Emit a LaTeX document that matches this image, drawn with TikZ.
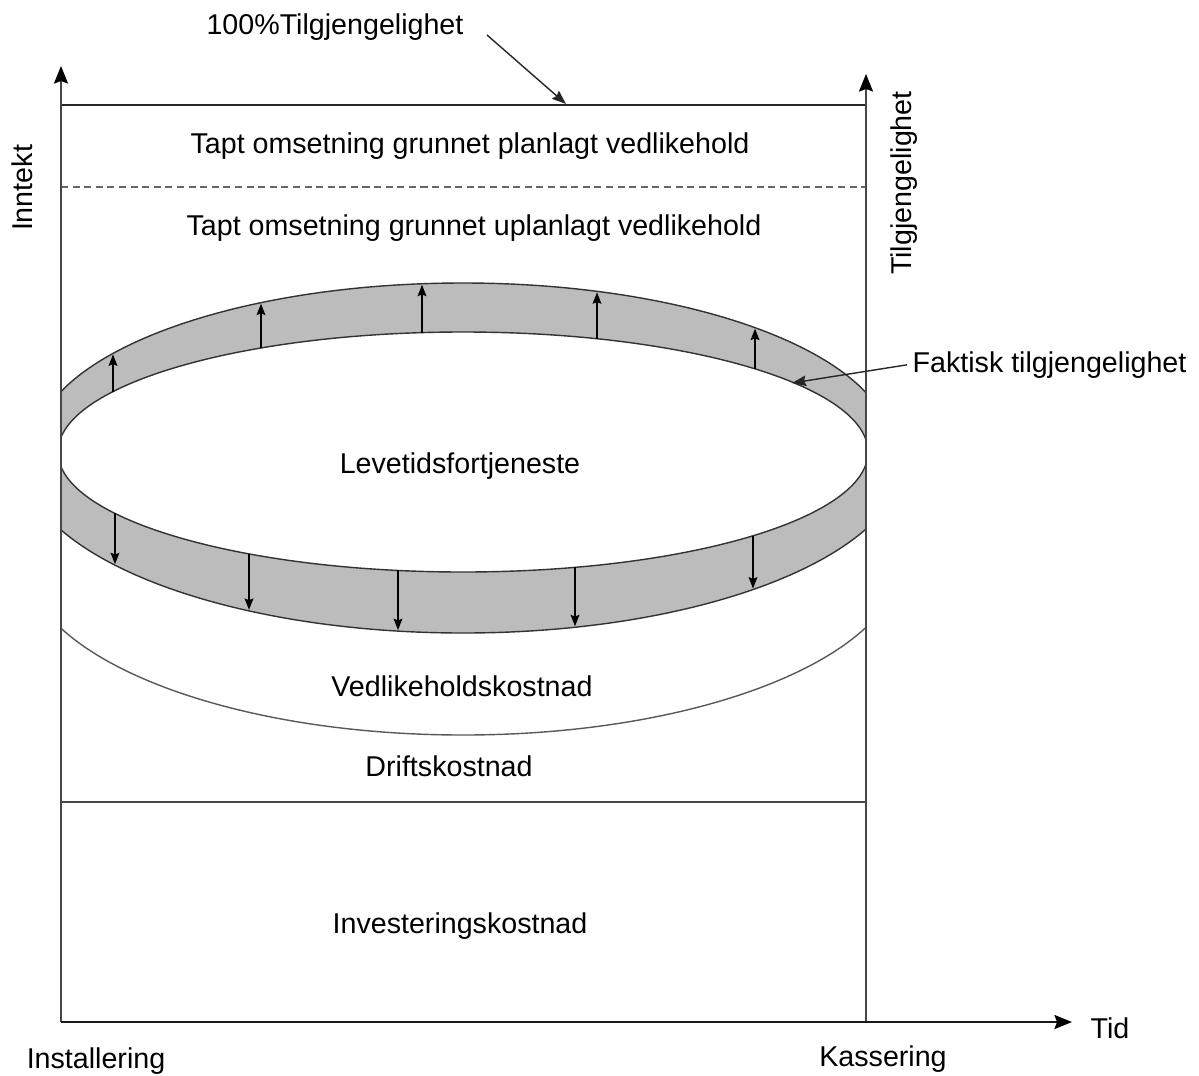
\documentclass[tikz,border=0pt]{standalone}
\usepackage{fontspec}
\setmainfont{Liberation Sans}
\usetikzlibrary{arrows.meta}
\begin{document}
\begin{tikzpicture}[x=0.02cm,y=-0.02cm,
  lbl/.style={font=\fontsize{16.3}{19}\selectfont, inner sep=3pt},
  hlbl/.style={lbl, yshift=-1.6pt},
  axis/.style={line width=1.1pt, draw=black!72},
  axisarrow/.style={axis, -{Stealth[length=10pt,width=8pt,inset=1.5pt,color=black]}},
  bandedge/.style={line width=0.8pt, draw=black!80},
  ringarrow/.style={line width=0.8pt, draw=black, -{Stealth[length=6.5pt,width=5pt,inset=1pt]}},
  pointer/.style={line width=0.8pt, draw=black!85, -{Stealth[length=8pt,width=6pt,inset=1pt]}},
]
\definecolor{bandgray}{RGB}{188,188,188}
\useasboundingbox (0,0) rectangle (1199,1075);

% axis and frame points
\coordinate (origin) at (61,1022);
\coordinate (ltop)   at (61,66);
\coordinate (rbase)  at (866,1022);
\coordinate (rtop)   at (866,74);
\coordinate (xend)   at (1072,1022);

% the availability ring, cut by the two vertical axes
\begin{scope}
  \clip (61,0) rectangle (866,1075);
  \fill[bandgray]
    (34,450) arc[start angle=180, end angle=360, x radius=429, y radius=167]
    -- (906,455) arc[start angle=0, end angle=180, x radius=443, y radius=178]
    -- cycle;
  \fill[white] (463,452) ellipse[x radius=405, y radius=120];
  \draw[bandedge] (34,450) arc[start angle=180, end angle=360, x radius=429, y radius=167];
  \draw[bandedge] (463,452) ellipse[x radius=405, y radius=120];
  \draw[bandedge] (906,455) arc[start angle=0, end angle=180, x radius=443, y radius=178];
  % maintenance cost curve
  \draw[line width=0.8pt, draw=black!65] (903,555) arc[start angle=0, end angle=180, x radius=440, y radius=180];
\end{scope}

% arrows across the upper half of the ring
\foreach \x in {113,261,422,597,755} {
  \pgfmathsetmacro\ya{452-120*sqrt(1-((\x-463)/405)^2)}
  \pgfmathsetmacro\yb{450-167*sqrt(1-((\x-463)/429)^2)+1}
  \draw[ringarrow] (\x,\ya) -- (\x,\yb);
}
% arrows across the lower half of the ring
\foreach \x in {115,249,398,575,753} {
  \pgfmathsetmacro\ya{452+120*sqrt(1-((\x-463)/405)^2)}
  \pgfmathsetmacro\yb{455+178*sqrt(1-((\x-463)/443)^2)-1}
  \draw[ringarrow] (\x,\ya) -- (\x,\yb);
}

% horizontal levels
\draw[line width=1pt, draw=black!85] (61,105) -- (866,105);
\draw[line width=0.8pt, draw=black!60, dash pattern=on 4pt off 2.6pt] (61,187) -- (866,187);
\draw[axis] (61,802) -- (866,802);

% axes
\draw[axisarrow] (origin) -- (ltop);
\draw[axisarrow] (rbase) -- (rtop);
\draw[axisarrow, draw=black!90] (origin) -- (xend);

% labels
\node[hlbl] (full) at (335,24) {100\%Tilgjengelighet};
\node[hlbl] (planned) at (470,143) {Tapt omsetning grunnet planlagt vedlikehold};
\node[hlbl] (unplanned) at (474,225) {Tapt omsetning grunnet uplanlagt vedlikehold};
\node[lbl, rotate=90] (income) at (22,188) {Inntekt};
\node[lbl, rotate=90] (avail) at (904,183) {Tilgjengelighet};
\node[hlbl, anchor=west] (actual) at (907,362) {Faktisk tilgjengelighet};
\node[hlbl] (profit) at (460,463) {Levetidsfortjeneste};
\node[hlbl] (maint) at (462,683) {Vedlikeholdskostnad};
\node[hlbl] (oper) at (449,763) {Driftskostnad};
\node[hlbl] (invest) at (460,923) {Investeringskostnad};
\node[hlbl] (install) at (96,1058) {Installering};
\node[hlbl] (scrap) at (883,1056) {Kassering};
\node[hlbl] (time) at (1110,1025) {Tid};

% pointers
\coordinate (fullstart) at (487,35);
\coordinate (fulltip) at (566,104);
\draw[pointer] (fullstart) -- (fulltip);
\coordinate (actualtip) at (792,383);
\draw[pointer] (actual.west) -- (actualtip);
\end{tikzpicture}
\end{document}
